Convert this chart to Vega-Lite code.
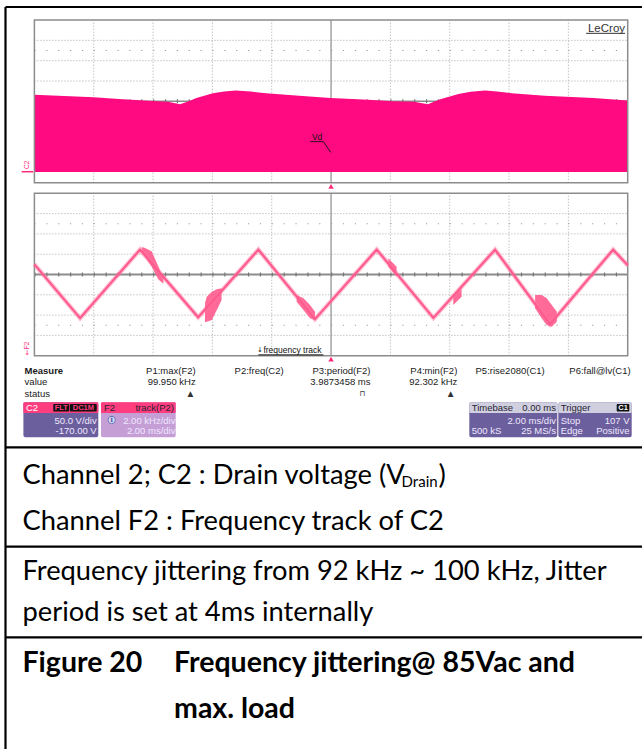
{
"$schema":"https://vega.github.io/schema/vega-lite/v6.json",
"width":642,"height":749,"autosize":"none","padding":0,"background":"#ffffff",
"config":{"view":{"stroke":null}},
"datasets":{
 "c2":[{"t":0,"v":186},{"t":1.0,"v":183},{"t":2.0,"v":180},{"t":2.98,"v":175},{"t":3.99,"v":171},{"t":4.5,"v":169},{"t":4.91,"v":163},{"t":5.2,"v":170},{"t":5.46,"v":178},{"t":6.02,"v":190},{"t":6.4,"v":194.5},{"t":6.78,"v":196.6},{"t":7.3,"v":194},{"t":7.81,"v":190},{"t":8.92,"v":184},{"t":9.99,"v":178},{"t":11.26,"v":174},{"t":12.09,"v":170},{"t":12.8,"v":169},{"t":13.26,"v":163},{"t":13.68,"v":175},{"t":14.3,"v":188},{"t":14.7,"v":193.5},{"t":15.2,"v":196.6},{"t":15.6,"v":194},{"t":16.09,"v":190},{"t":17.2,"v":184},{"t":18.85,"v":178},{"t":20,"v":172}],
 "f2":[{"t":0,"f":98.0},{"t":1.54,"f":92.7},{"t":3.56,"f":99.45},{"t":5.52,"f":92.78},{"t":7.55,"f":99.45},{"t":9.46,"f":92.6},{"t":11.54,"f":99.45},{"t":13.45,"f":92.72},{"t":15.53,"f":99.45},{"t":17.38,"f":92.1},{"t":19.51,"f":99.45},{"t":20,"f":97.9}],
 "bursts":[
  {"b":"1","t":3.62,"lo":99.2,"hi":99.7},{"b":"1","t":3.73,"lo":98.75,"hi":99.6},{"b":"1","t":3.95,"lo":97.8,"hi":99.3},{"b":"1","t":4.18,"lo":96.5,"hi":97.8},{"b":"1","t":4.35,"lo":96.1,"hi":96.6},
  {"b":"2","t":5.75,"lo":92.3,"hi":94.2},{"b":"2","t":5.81,"lo":92.35,"hi":94.81},{"b":"2","t":5.98,"lo":92.52,"hi":95.3},{"b":"2","t":6.15,"lo":93.5,"hi":95.54},{"b":"2","t":6.31,"lo":94.49,"hi":95.64},
  {"b":"3","t":8.84,"lo":94.32,"hi":94.98},{"b":"3","t":9.07,"lo":93.5,"hi":94.65},{"b":"3","t":9.29,"lo":92.68,"hi":94.0},{"b":"3","t":9.46,"lo":92.52,"hi":93.33},
  {"b":"4","t":11.93,"lo":97.77,"hi":98.6},{"b":"4","t":12.21,"lo":96.78,"hi":97.77},
  {"b":"5","t":14.12,"lo":94.0,"hi":94.81},{"b":"5","t":14.4,"lo":94.81,"hi":95.64},
  {"b":"6","t":16.88,"lo":93.67,"hi":94.98},{"b":"6","t":17.1,"lo":92.68,"hi":94.98},{"b":"6","t":17.27,"lo":92.02,"hi":94.65},{"b":"6","t":17.44,"lo":91.86,"hi":94.0},{"b":"6","t":17.61,"lo":92.35,"hi":93.33}
 ]
},
"resolve":{"scale":{"x":"independent","y":"independent"}},
"layer":[
 {"layer":[
  {"data":{"values":[{"x1":1.455,"x2":1.455,"y1":1.852,"y2":198.175},{"x1":1.455,"x2":169.863,"y1":1.852,"y2":1.852},{"x1":1.455,"x2":169.863,"y1":118.35,"y2":118.35},{"x1":1.455,"x2":169.863,"y1":144.65,"y2":144.65},{"x1":1.455,"x2":169.863,"y1":168.62,"y2":168.62}]},
   "mark":{"type":"rule","color":"#000000","strokeWidth":2.2},
   "encoding":{"x":{"field":"x1","type":"quantitative","scale":{"domain":[0,169.863],"nice":false,"zero":false},"axis":null},"x2":{"field":"x2"},"y":{"field":"y1","type":"quantitative","scale":{"domain":[0,198.175],"nice":false,"zero":false,"reverse":true},"axis":null},"y2":{"field":"y2"}}},
  {"data":{"values":[{"x1":6.19,"x2":26.01,"y1":106.44,"y2":115.7},{"x1":124.17,"x2":147.45,"y1":106.44,"y2":115.7},{"x1":147.72,"x2":167.14,"y1":106.44,"y2":115.7}]},
   "mark":{"type":"rect","color":"#6c5f9d","cornerRadius":2},
   "encoding":{"x":{"field":"x1","type":"quantitative","scale":{"domain":[0,169.863],"nice":false,"zero":false},"axis":null},"x2":{"field":"x2"},"y":{"field":"y1","type":"quantitative","scale":{"domain":[0,198.175],"nice":false,"zero":false,"reverse":true},"axis":null},"y2":{"field":"y2"}}},
  {"data":{"values":[{"x1":26.72,"x2":46.49,"y1":106.44,"y2":115.7}]},
   "mark":{"type":"rect","color":"#c69ed6","cornerRadius":2},
   "encoding":{"x":{"field":"x1","type":"quantitative","scale":{"domain":[0,169.863],"nice":false,"zero":false},"axis":null},"x2":{"field":"x2"},"y":{"field":"y1","type":"quantitative","scale":{"domain":[0,198.175],"nice":false,"zero":false,"reverse":true},"axis":null},"y2":{"field":"y2"}}},
  {"data":{"values":[{"x1":6.19,"x2":26.01,"y1":106.44,"y2":109.27},{"x1":26.72,"x2":46.49,"y1":106.44,"y2":109.27}]},
   "mark":{"type":"rect","color":"#ff3d7f","cornerRadius":1},
   "encoding":{"x":{"field":"x1","type":"quantitative","scale":{"domain":[0,169.863],"nice":false,"zero":false},"axis":null},"x2":{"field":"x2"},"y":{"field":"y1","type":"quantitative","scale":{"domain":[0,198.175],"nice":false,"zero":false,"reverse":true},"axis":null},"y2":{"field":"y2"}}},
  {"data":{"values":[{"x1":124.17,"x2":147.45,"y1":106.44,"y2":109.27},{"x1":147.72,"x2":167.14,"y1":106.44,"y2":109.27}]},
   "mark":{"type":"rect","color":"#cfcfe0","cornerRadius":1},
   "encoding":{"x":{"field":"x1","type":"quantitative","scale":{"domain":[0,169.863],"nice":false,"zero":false},"axis":null},"x2":{"field":"x2"},"y":{"field":"y1","type":"quantitative","scale":{"domain":[0,198.175],"nice":false,"zero":false,"reverse":true},"axis":null},"y2":{"field":"y2"}}},
  {"data":{"values":[{"x1":14.1,"x2":18.34,"y1":106.89,"y2":108.88},{"x1":18.52,"x2":25.59,"y1":106.89,"y2":108.88},{"x1":163.17,"x2":166.51,"y1":106.89,"y2":108.88}]},
   "mark":{"type":"rect","color":"#111111","cornerRadius":1},
   "encoding":{"x":{"field":"x1","type":"quantitative","scale":{"domain":[0,169.863],"nice":false,"zero":false},"axis":null},"x2":{"field":"x2"},"y":{"field":"y1","type":"quantitative","scale":{"domain":[0,198.175],"nice":false,"zero":false,"reverse":true},"axis":null},"y2":{"field":"y2"}}},
  {"data":{"values":[{"x":6.51,"y":98.16,"label":"Measure"}]},
   "mark":{"type":"text","align":"left","baseline":"middle","font":"Liberation Sans","fontSize":9.5,"fontWeight":"bold","color":"#1a1a1a"},
   "encoding":{"x":{"field":"x","type":"quantitative","scale":{"domain":[0,169.863],"nice":false,"zero":false},"axis":null},"y":{"field":"y","type":"quantitative","scale":{"domain":[0,198.175],"nice":false,"zero":false,"reverse":true},"axis":null},"text":{"field":"label"}}},
  {"data":{"values":[{"x":6.51,"y":101.15,"label":"value"},{"x":6.51,"y":104.25,"label":"status"}]},
   "mark":{"type":"text","align":"left","baseline":"middle","font":"Liberation Sans","fontSize":9.5,"color":"#1a1a1a"},
   "encoding":{"x":{"field":"x","type":"quantitative","scale":{"domain":[0,169.863],"nice":false,"zero":false},"axis":null},"y":{"field":"y","type":"quantitative","scale":{"domain":[0,198.175],"nice":false,"zero":false,"reverse":true},"axis":null},"text":{"field":"label"}}},
  {"data":{"values":[{"x":51.78,"y":98.16,"label":"P1:max(F2)"},{"x":75.06,"y":98.16,"label":"P2:freq(C2)"},{"x":98.03,"y":98.16,"label":"P3:period(F2)"},{"x":121.0,"y":98.16,"label":"P4:min(F2)"},{"x":144.12,"y":98.16,"label":"P5:rise2080(C1)"},{"x":166.87,"y":98.16,"label":"P6:fall@lv(C1)"},{"x":51.78,"y":101.15,"label":"99.950 kHz"},{"x":98.03,"y":101.15,"label":"3.9873458 ms"},{"x":121.0,"y":101.15,"label":"92.302 kHz"}]},
   "mark":{"type":"text","align":"right","baseline":"middle","font":"Liberation Sans","fontSize":9.5,"color":"#1a1a1a"},
   "encoding":{"x":{"field":"x","type":"quantitative","scale":{"domain":[0,169.863],"nice":false,"zero":false},"axis":null},"y":{"field":"y","type":"quantitative","scale":{"domain":[0,198.175],"nice":false,"zero":false,"reverse":true},"axis":null},"text":{"field":"label"}}},
  {"data":{"values":[{"x":50.4,"y":104.25,"label":"▲"},{"x":95.91,"y":104.25,"label":"⊓"},{"x":119.25,"y":104.25,"label":"▲"}]},
   "mark":{"type":"text","align":"center","baseline":"middle","font":"DejaVu Sans","fontSize":7.5,"color":"#333333"},
   "encoding":{"x":{"field":"x","type":"quantitative","scale":{"domain":[0,169.863],"nice":false,"zero":false},"axis":null},"y":{"field":"y","type":"quantitative","scale":{"domain":[0,198.175],"nice":false,"zero":false,"reverse":true},"axis":null},"text":{"field":"label"}}},
  {"data":{"values":[{"x":6.88,"y":107.87,"label":"C2"}]},
   "mark":{"type":"text","align":"left","baseline":"middle","font":"Liberation Sans","fontSize":9.5,"color":"#ffffff"},
   "encoding":{"x":{"field":"x","type":"quantitative","scale":{"domain":[0,169.863],"nice":false,"zero":false},"axis":null},"y":{"field":"y","type":"quantitative","scale":{"domain":[0,198.175],"nice":false,"zero":false,"reverse":true},"axis":null},"text":{"field":"label"}}},
  {"data":{"values":[{"x":16.22,"y":107.9,"label":"FLT"},{"x":22.05,"y":107.9,"label":"DC1M"}]},
   "mark":{"type":"text","align":"center","baseline":"middle","font":"Liberation Sans","fontSize":7.5,"fontWeight":"bold","color":"#ff3d7f"},
   "encoding":{"x":{"field":"x","type":"quantitative","scale":{"domain":[0,169.863],"nice":false,"zero":false},"axis":null},"y":{"field":"y","type":"quantitative","scale":{"domain":[0,198.175],"nice":false,"zero":false,"reverse":true},"axis":null},"text":{"field":"label"}}},
  {"data":{"values":[{"x":164.84,"y":107.9,"label":"C1"}]},
   "mark":{"type":"text","align":"center","baseline":"middle","font":"Liberation Sans","fontSize":7.5,"fontWeight":"bold","color":"#ffffff"},
   "encoding":{"x":{"field":"x","type":"quantitative","scale":{"domain":[0,169.863],"nice":false,"zero":false},"axis":null},"y":{"field":"y","type":"quantitative","scale":{"domain":[0,198.175],"nice":false,"zero":false,"reverse":true},"axis":null},"text":{"field":"label"}}},
  {"data":{"values":[{"x":27.52,"y":107.87,"label":"F2"},{"x":124.81,"y":107.87,"label":"Timebase"},{"x":148.35,"y":107.87,"label":"Trigger"}]},
   "mark":{"type":"text","align":"left","baseline":"middle","font":"Liberation Sans","fontSize":9.5,"color":"#2a1f33"},
   "encoding":{"x":{"field":"x","type":"quantitative","scale":{"domain":[0,169.863],"nice":false,"zero":false},"axis":null},"y":{"field":"y","type":"quantitative","scale":{"domain":[0,198.175],"nice":false,"zero":false,"reverse":true},"axis":null},"text":{"field":"label"}}},
  {"data":{"values":[{"x":46.04,"y":107.87,"label":"track(P2)"},{"x":147.11,"y":107.87,"label":"0.00 ms"}]},
   "mark":{"type":"text","align":"right","baseline":"middle","font":"Liberation Sans","fontSize":9.5,"color":"#2a1f33"},
   "encoding":{"x":{"field":"x","type":"quantitative","scale":{"domain":[0,169.863],"nice":false,"zero":false},"axis":null},"y":{"field":"y","type":"quantitative","scale":{"domain":[0,198.175],"nice":false,"zero":false,"reverse":true},"axis":null},"text":{"field":"label"}}},
  {"data":{"values":[{"x":25.59,"y":111.39,"label":"50.0 V/div"},{"x":25.59,"y":113.96,"label":"-170.00 V"},{"x":46.43,"y":111.39,"label":"2.00 kHz/div"},{"x":46.43,"y":113.96,"label":"2.00 ms/div"},{"x":147.11,"y":111.39,"label":"2.00 ms/div"},{"x":147.11,"y":113.96,"label":"25 MS/s"},{"x":166.56,"y":111.39,"label":"107 V"},{"x":166.56,"y":113.96,"label":"Positive"}]},
   "mark":{"type":"text","align":"right","baseline":"middle","font":"Liberation Sans","fontSize":9.5,"color":"#eee8ff"},
   "encoding":{"x":{"field":"x","type":"quantitative","scale":{"domain":[0,169.863],"nice":false,"zero":false},"axis":null},"y":{"field":"y","type":"quantitative","scale":{"domain":[0,198.175],"nice":false,"zero":false,"reverse":true},"axis":null},"text":{"field":"label"}}},
  {"data":{"values":[{"x":124.81,"y":113.96,"label":"500 kS"},{"x":148.35,"y":111.39,"label":"Stop"},{"x":148.35,"y":113.96,"label":"Edge"}]},
   "mark":{"type":"text","align":"left","baseline":"middle","font":"Liberation Sans","fontSize":9.5,"color":"#eee8ff"},
   "encoding":{"x":{"field":"x","type":"quantitative","scale":{"domain":[0,169.863],"nice":false,"zero":false},"axis":null},"y":{"field":"y","type":"quantitative","scale":{"domain":[0,198.175],"nice":false,"zero":false,"reverse":true},"axis":null},"text":{"field":"label"}}},
  {"data":{"values":[{"x":29.55,"y":111.13}]},
   "mark":{"type":"point","shape":"circle","filled":true,"size":55,"color":"#e8eeff","stroke":"#4a6ab0","strokeWidth":1},
   "encoding":{"x":{"field":"x","type":"quantitative","scale":{"domain":[0,169.863],"nice":false,"zero":false},"axis":null},"y":{"field":"y","type":"quantitative","scale":{"domain":[0,198.175],"nice":false,"zero":false,"reverse":true},"axis":null}}},
  {"data":{"values":[{"x":29.55,"y":111.13,"label":"i"}]},
   "mark":{"type":"text","align":"center","baseline":"middle","font":"Liberation Serif","fontSize":8,"fontWeight":"bold","color":"#2f55a5"},
   "encoding":{"x":{"field":"x","type":"quantitative","scale":{"domain":[0,169.863],"nice":false,"zero":false},"axis":null},"y":{"field":"y","type":"quantitative","scale":{"domain":[0,198.175],"nice":false,"zero":false,"reverse":true},"axis":null},"text":{"field":"label"}}},
  {"data":{"values":[{"x":5.95,"y":128.06,"label":"Channel 2; C2 : Drain voltage (V"},{"x":116.02,"y":128.06,"label":")"},{"x":5.95,"y":140.23,"label":"Channel F2 : Frequency track of C2"},{"x":5.95,"y":153.46,"label":"Frequency jittering from 92 kHz ~ 100 kHz, Jitter"},{"x":5.95,"y":164.31,"label":"period is set at 4ms internally"}]},
   "mark":{"type":"text","align":"left","baseline":"alphabetic","font":"Lato","fontSize":27.3,"color":"#000000"},
   "encoding":{"x":{"field":"x","type":"quantitative","scale":{"domain":[0,169.863],"nice":false,"zero":false},"axis":null},"y":{"field":"y","type":"quantitative","scale":{"domain":[0,198.175],"nice":false,"zero":false,"reverse":true},"axis":null},"text":{"field":"label"}}},
  {"data":{"values":[{"x":106.26,"y":128.77,"label":"Drain"}]},
   "mark":{"type":"text","align":"left","baseline":"alphabetic","font":"Lato","fontSize":15,"color":"#000000"},
   "encoding":{"x":{"field":"x","type":"quantitative","scale":{"domain":[0,169.863],"nice":false,"zero":false},"axis":null},"y":{"field":"y","type":"quantitative","scale":{"domain":[0,198.175],"nice":false,"zero":false,"reverse":true},"axis":null},"text":{"field":"label"}}},
  {"data":{"values":[{"x":5.95,"y":177.8,"label":"Figure 20"},{"x":46.04,"y":177.8,"label":"Frequency jittering@ 85Vac and"},{"x":46.04,"y":189.97,"label":"max. load"}]},
   "mark":{"type":"text","align":"left","baseline":"alphabetic","font":"Lato","fontSize":28.5,"fontWeight":"bold","color":"#000000"},
   "encoding":{"x":{"field":"x","type":"quantitative","scale":{"domain":[0,169.863],"nice":false,"zero":false},"axis":null},"y":{"field":"y","type":"quantitative","scale":{"domain":[0,198.175],"nice":false,"zero":false,"reverse":true},"axis":null},"text":{"field":"label"}}}
 ]},
 {"layer":[
  {"data":{"values":[{"t":2},{"t":4},{"t":6},{"t":8},{"t":12},{"t":14},{"t":16},{"t":18}]},
   "mark":{"type":"rule","color":"#a8a8a8","strokeWidth":1,"strokeDash":[1,2]},
   "encoding":{"x":{"field":"t","type":"quantitative","scale":{"domain":[-1.15961,20.4821],"nice":false,"zero":false},"axis":null},"y":{"datum":-30,"type":"quantitative","scale":{"domain":[-1422.26,419.17],"nice":false,"zero":false},"axis":null},"y2":{"datum":370}}},
  {"data":{"values":[{"v":20},{"v":70},{"v":120},{"v":220},{"v":270},{"v":320}]},
   "mark":{"type":"rule","color":"#a8a8a8","strokeWidth":1,"strokeDash":[1,2]},
   "encoding":{"x":{"datum":0,"type":"quantitative","scale":{"domain":[-1.15961,20.4821],"nice":false,"zero":false},"axis":null},"x2":{"datum":20},"y":{"field":"v","type":"quantitative","scale":{"domain":[-1422.26,419.17],"nice":false,"zero":false},"axis":null}}},
  {"data":{"values":[{"t":10}]},
   "mark":{"type":"rule","color":"#8c8c8c","strokeWidth":1.2},
   "encoding":{"x":{"field":"t","type":"quantitative","scale":{"domain":[-1.15961,20.4821],"nice":false,"zero":false},"axis":null},"y":{"datum":-30,"type":"quantitative","scale":{"domain":[-1422.26,419.17],"nice":false,"zero":false},"axis":null},"y2":{"datum":370}}},
  {"data":{"values":[{"v":170}]},
   "mark":{"type":"rule","color":"#8c8c8c","strokeWidth":1.5},
   "encoding":{"x":{"datum":0,"type":"quantitative","scale":{"domain":[-1.15961,20.4821],"nice":false,"zero":false},"axis":null},"x2":{"datum":20},"y":{"field":"v","type":"quantitative","scale":{"domain":[-1422.26,419.17],"nice":false,"zero":false},"axis":null}}},
  {"data":{"values":[{"v":170}]},
   "mark":{"type":"rule","color":"#777777","strokeWidth":4,"strokeDash":[1.2,10.666]},
   "encoding":{"x":{"datum":0,"type":"quantitative","scale":{"domain":[-1.15961,20.4821],"nice":false,"zero":false},"axis":null},"x2":{"datum":20},"y":{"field":"v","type":"quantitative","scale":{"domain":[-1422.26,419.17],"nice":false,"zero":false},"axis":null}}},
  {"data":{"values":[{"v":295},{"v":45}]},
   "mark":{"type":"rule","color":"#9a9a9a","strokeWidth":1.2,"strokeDash":[1.2,10.666]},
   "encoding":{"x":{"datum":0,"type":"quantitative","scale":{"domain":[-1.15961,20.4821],"nice":false,"zero":false},"axis":null},"x2":{"datum":20},"y":{"field":"v","type":"quantitative","scale":{"domain":[-1422.26,419.17],"nice":false,"zero":false},"axis":null}}},
  {"data":{"name":"c2"},
   "mark":{"type":"area","color":"#ff0a80","opacity":1},
   "encoding":{"x":{"field":"t","type":"quantitative","scale":{"domain":[-1.15961,20.4821],"nice":false,"zero":false},"axis":null},"y":{"field":"v","type":"quantitative","scale":{"domain":[-1422.26,419.17],"nice":false,"zero":false},"axis":null},"y2":{"datum":-4}}},
  {"data":{"values":[{}]},
   "mark":{"type":"rect","filled":false,"color":"#8c8c8c","strokeWidth":1.5},
   "encoding":{"x":{"datum":0,"type":"quantitative","scale":{"domain":[-1.15961,20.4821],"nice":false,"zero":false},"axis":null},"x2":{"datum":20},"y":{"datum":-30,"type":"quantitative","scale":{"domain":[-1422.26,419.17],"nice":false,"zero":false},"axis":null},"y2":{"datum":370}}},
  {"data":{"values":[{"t":19.91,"v":340.9,"label":"LeCroy"}]},
   "mark":{"type":"text","align":"right","baseline":"alphabetic","font":"Liberation Sans","fontSize":11.5,"color":"#333333"},
   "encoding":{"x":{"field":"t","type":"quantitative","scale":{"domain":[-1.15961,20.4821],"nice":false,"zero":false},"axis":null},"y":{"field":"v","type":"quantitative","scale":{"domain":[-1422.26,419.17],"nice":false,"zero":false},"axis":null},"text":{"field":"label"}}},
  {"data":{"values":[{"t1":18.6,"t2":19.91,"v":337.2}]},
   "mark":{"type":"rule","color":"#333333","strokeWidth":1},
   "encoding":{"x":{"field":"t1","type":"quantitative","scale":{"domain":[-1.15961,20.4821],"nice":false,"zero":false},"axis":null},"x2":{"field":"t2"},"y":{"field":"v","type":"quantitative","scale":{"domain":[-1422.26,419.17],"nice":false,"zero":false},"axis":null}}},
  {"data":{"values":[{"t":9.53,"v":75.3,"label":"Vd"}]},
   "mark":{"type":"text","align":"center","baseline":"alphabetic","font":"Liberation Sans","fontSize":8.5,"color":"#111111"},
   "encoding":{"x":{"field":"t","type":"quantitative","scale":{"domain":[-1.15961,20.4821],"nice":false,"zero":false},"axis":null},"y":{"field":"v","type":"quantitative","scale":{"domain":[-1422.26,419.17],"nice":false,"zero":false},"axis":null},"text":{"field":"label"}}},
  {"data":{"values":[{"i":1,"t":9.3,"v":71},{"i":2,"t":9.74,"v":71},{"i":3,"t":9.99,"v":44.6}]},
   "mark":{"type":"line","color":"#111111","strokeWidth":0.9},
   "encoding":{"x":{"field":"t","type":"quantitative","scale":{"domain":[-1.15961,20.4821],"nice":false,"zero":false},"axis":null},"y":{"field":"v","type":"quantitative","scale":{"domain":[-1422.26,419.17],"nice":false,"zero":false},"axis":null},"order":{"field":"i"}}},
  {"data":{"values":[{"t":-0.24,"v":14,"label":"C2"}]},
   "mark":{"type":"text","align":"center","baseline":"middle","angle":270,"font":"Liberation Sans","fontSize":6.5,"color":"#ff2a7a"},
   "encoding":{"x":{"field":"t","type":"quantitative","scale":{"domain":[-1.15961,20.4821],"nice":false,"zero":false},"axis":null},"y":{"field":"v","type":"quantitative","scale":{"domain":[-1422.26,419.17],"nice":false,"zero":false},"axis":null},"text":{"field":"label"}}},
  {"data":{"values":[{"t1":-0.43,"t2":-0.04,"v":-3}]},
   "mark":{"type":"rule","color":"#ff2a7a","strokeWidth":1.5},
   "encoding":{"x":{"field":"t1","type":"quantitative","scale":{"domain":[-1.15961,20.4821],"nice":false,"zero":false},"axis":null},"x2":{"field":"t2"},"y":{"field":"v","type":"quantitative","scale":{"domain":[-1422.26,419.17],"nice":false,"zero":false},"axis":null}}}
 ]},
 {"layer":[
  {"data":{"values":[{"t":2},{"t":4},{"t":6},{"t":8},{"t":12},{"t":14},{"t":16},{"t":18}]},
   "mark":{"type":"rule","color":"#a8a8a8","strokeWidth":1,"strokeDash":[1,2]},
   "encoding":{"x":{"field":"t","type":"quantitative","scale":{"domain":[-1.15961,20.4821],"nice":false,"zero":false},"axis":null},"y":{"datum":89,"type":"quantitative","scale":{"domain":[50.251,124.044],"nice":false,"zero":false},"axis":null},"y2":{"datum":105}}},
  {"data":{"values":[{"f":91},{"f":93},{"f":95},{"f":99},{"f":101},{"f":103}]},
   "mark":{"type":"rule","color":"#a8a8a8","strokeWidth":1,"strokeDash":[1,2]},
   "encoding":{"x":{"datum":0,"type":"quantitative","scale":{"domain":[-1.15961,20.4821],"nice":false,"zero":false},"axis":null},"x2":{"datum":20},"y":{"field":"f","type":"quantitative","scale":{"domain":[50.251,124.044],"nice":false,"zero":false},"axis":null}}},
  {"data":{"values":[{"t":10}]},
   "mark":{"type":"rule","color":"#8c8c8c","strokeWidth":1.2},
   "encoding":{"x":{"field":"t","type":"quantitative","scale":{"domain":[-1.15961,20.4821],"nice":false,"zero":false},"axis":null},"y":{"datum":89,"type":"quantitative","scale":{"domain":[50.251,124.044],"nice":false,"zero":false},"axis":null},"y2":{"datum":105}}},
  {"data":{"values":[{"f":102},{"f":92}]},
   "mark":{"type":"rule","color":"#9a9a9a","strokeWidth":1.2,"strokeDash":[1.2,10.666]},
   "encoding":{"x":{"datum":0,"type":"quantitative","scale":{"domain":[-1.15961,20.4821],"nice":false,"zero":false},"axis":null},"x2":{"datum":20},"y":{"field":"f","type":"quantitative","scale":{"domain":[50.251,124.044],"nice":false,"zero":false},"axis":null}}},
  {"data":{"values":[{"f":97}]},
   "mark":{"type":"rule","color":"#8c8c8c","strokeWidth":1.8},
   "encoding":{"x":{"datum":0,"type":"quantitative","scale":{"domain":[-1.15961,20.4821],"nice":false,"zero":false},"axis":null},"x2":{"datum":20},"y":{"field":"f","type":"quantitative","scale":{"domain":[50.251,124.044],"nice":false,"zero":false},"axis":null}}},
  {"data":{"values":[{"f":97}]},
   "mark":{"type":"rule","color":"#777777","strokeWidth":4,"strokeDash":[1.2,10.666]},
   "encoding":{"x":{"datum":0,"type":"quantitative","scale":{"domain":[-1.15961,20.4821],"nice":false,"zero":false},"axis":null},"x2":{"datum":20},"y":{"field":"f","type":"quantitative","scale":{"domain":[50.251,124.044],"nice":false,"zero":false},"axis":null}}},
  {"data":{"values":[{}]},
   "mark":{"type":"rect","filled":false,"color":"#8c8c8c","strokeWidth":1.5},
   "encoding":{"x":{"datum":0,"type":"quantitative","scale":{"domain":[-1.15961,20.4821],"nice":false,"zero":false},"axis":null},"x2":{"datum":20},"y":{"datum":89,"type":"quantitative","scale":{"domain":[50.251,124.044],"nice":false,"zero":false},"axis":null},"y2":{"datum":105}}},
  {"data":{"name":"bursts"},
   "mark":{"type":"area","color":"#ff5a8e","opacity":0.9},
   "encoding":{"x":{"field":"t","type":"quantitative","scale":{"domain":[-1.15961,20.4821],"nice":false,"zero":false},"axis":null},"y":{"field":"lo","type":"quantitative","scale":{"domain":[50.251,124.044],"nice":false,"zero":false},"axis":null},"y2":{"field":"hi"},"detail":{"field":"b"}}},
  {"data":{"name":"f2"},
   "mark":{"type":"line","color":"#ff7aa2","strokeWidth":4.6,"opacity":0.45},
   "encoding":{"x":{"field":"t","type":"quantitative","scale":{"domain":[-1.15961,20.4821],"nice":false,"zero":false},"axis":null},"y":{"field":"f","type":"quantitative","scale":{"domain":[50.251,124.044],"nice":false,"zero":false},"axis":null}}},
  {"data":{"name":"f2"},
   "mark":{"type":"line","color":"#ff5a8e","strokeWidth":2.2},
   "encoding":{"x":{"field":"t","type":"quantitative","scale":{"domain":[-1.15961,20.4821],"nice":false,"zero":false},"axis":null},"y":{"field":"f","type":"quantitative","scale":{"domain":[50.251,124.044],"nice":false,"zero":false},"axis":null}}},
  {"data":{"values":[{"t":-0.24,"f":90.0,"label":"F2"}]},
   "mark":{"type":"text","align":"center","baseline":"middle","angle":270,"font":"Liberation Sans","fontSize":6.5,"color":"#ff2a7a"},
   "encoding":{"x":{"field":"t","type":"quantitative","scale":{"domain":[-1.15961,20.4821],"nice":false,"zero":false},"axis":null},"y":{"field":"f","type":"quantitative","scale":{"domain":[50.251,124.044],"nice":false,"zero":false},"axis":null},"text":{"field":"label"}}},
  {"data":{"values":[{"t":-0.24,"f":89.25,"label":"↓"}]},
   "mark":{"type":"text","align":"center","baseline":"middle","font":"DejaVu Sans","fontSize":7,"color":"#ff2a7a"},
   "encoding":{"x":{"field":"t","type":"quantitative","scale":{"domain":[-1.15961,20.4821],"nice":false,"zero":false},"axis":null},"y":{"field":"f","type":"quantitative","scale":{"domain":[50.251,124.044],"nice":false,"zero":false},"axis":null},"text":{"field":"label"}}},
  {"data":{"values":[{"t":7.6,"f":89.6,"label":"↓"}]},
   "mark":{"type":"text","align":"center","baseline":"middle","font":"DejaVu Sans","fontSize":7,"color":"#111111"},
   "encoding":{"x":{"field":"t","type":"quantitative","scale":{"domain":[-1.15961,20.4821],"nice":false,"zero":false},"axis":null},"y":{"field":"f","type":"quantitative","scale":{"domain":[50.251,124.044],"nice":false,"zero":false},"axis":null},"text":{"field":"label"}}},
  {"data":{"values":[{"t":7.72,"f":89.6,"label":"frequency track"}]},
   "mark":{"type":"text","align":"left","baseline":"middle","font":"Liberation Sans","fontSize":8.5,"color":"#111111"},
   "encoding":{"x":{"field":"t","type":"quantitative","scale":{"domain":[-1.15961,20.4821],"nice":false,"zero":false},"axis":null},"y":{"field":"f","type":"quantitative","scale":{"domain":[50.251,124.044],"nice":false,"zero":false},"axis":null},"text":{"field":"label"}}},
  {"data":{"values":[{"t1":7.55,"t2":9.74,"f":89.08}]},
   "mark":{"type":"rule","color":"#111111","strokeWidth":1},
   "encoding":{"x":{"field":"t1","type":"quantitative","scale":{"domain":[-1.15961,20.4821],"nice":false,"zero":false},"axis":null},"x2":{"field":"t2"},"y":{"field":"f","type":"quantitative","scale":{"domain":[50.251,124.044],"nice":false,"zero":false},"axis":null}}},
  {"data":{"values":[{"t":10,"f":105.67},{"t":10,"f":88.67}]},
   "mark":{"type":"point","shape":"triangle-up","filled":true,"size":30,"color":"#ff2a7a","opacity":1},
   "encoding":{"x":{"field":"t","type":"quantitative","scale":{"domain":[-1.15961,20.4821],"nice":false,"zero":false},"axis":null},"y":{"field":"f","type":"quantitative","scale":{"domain":[50.251,124.044],"nice":false,"zero":false},"axis":null}}}
 ]}
]
}
